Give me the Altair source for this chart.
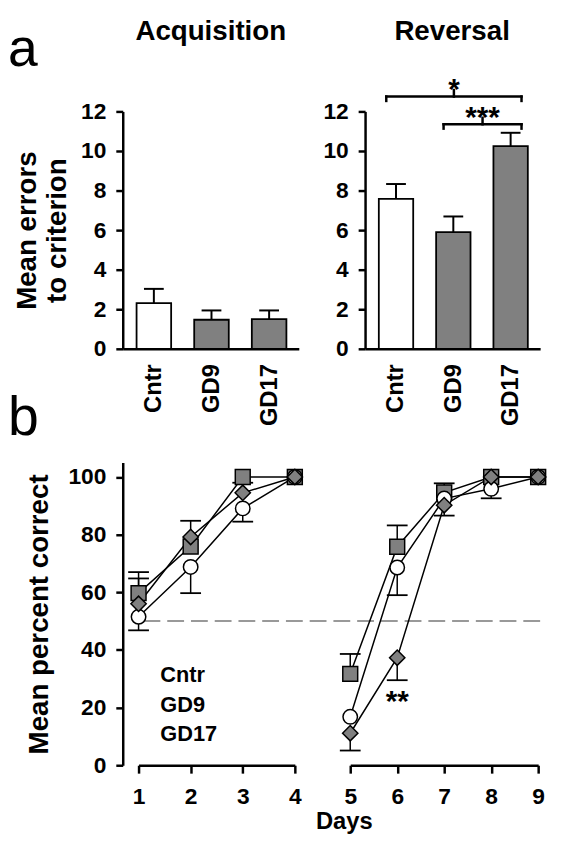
import json
import altair as alt
import pandas as pd

# ---------------- data ----------------
groups = ["Cntr", "GD9", "GD17"]

acq_mean = [2.31, 1.47, 1.50]
acq_sem = [0.72, 0.47, 0.44]
rev_mean = [7.58, 5.90, 10.25]
rev_sem = [0.75, 0.79, 0.67]

sig_from = ["Cntr", "GD9"]
sig_to = ["GD17", "GD17"]
sig_level = [12.75, 11.35]
sig_text = ["*", "***"]

days = [1, 2, 3, 4, 5, 6, 7, 8, 9]
cntr_pct = [51.5, 68.8, 89.1, 100, 16.8, 68.6, 92.5, 95.9, 100]
cntr_err = [46.8, 59.7, 84.5, None, None, 59.0, None, 92.6, None]
gd9_pct = [59.7, 75.9, 100, 100, 31.7, 75.8, 94.6, 100, 100]
gd9_err = [67.0, 84.8, None, None, 38.6, 83.2, 97.8, None, None]
gd17_pct = [56.0, 79.2, 94.5, 100, 11.1, 37.3, 90.2, 100, 100]
gd17_err = [64.8, None, 98.0, None, 5.1, 29.5, 86.6, None, None]

chance_level = [50]
star_day = [6]
star_value = [18.7]
star_text = ["**"]

# ---------------- style ----------------
FONT = "Liberation Sans"
GRAY = "#808080"
AXW = 2.5
LEFT = -116   # left edge of the figure, relative to the first plot area
TOP = -100    # top edge of the figure, relative to the first plot area


def text_layer(s, x, y, size, weight="bold", align="left"):
    return alt.Chart(pd.DataFrame({"label": [s]})).mark_text(
        font=FONT, fontSize=size, fontWeight=weight, align=align,
        baseline="alphabetic", color="black"
    ).encode(x=alt.value(x), y=alt.value(y), text="label:N")


def bar_panel(means, sems, y_title, with_sig):
    df = pd.DataFrame({"group": groups, "idx": list(range(len(groups))),
                       "mean": means, "sem": sems})
    xs = alt.Scale(domain=[-0.54, 2.515], nice=False, zero=False)
    ys = alt.Scale(domain=[0, 12], nice=False, zero=True)
    xaxis = alt.Axis(values=[0, 1, 2], labelExpr=json.dumps(groups) + "[datum.value]",
                     labelAngle=270, labelAlign="right", labelBaseline="middle",
                     ticks=False, tickSize=0, labelPadding=15, labelFontSize=24,
                     labelFlush=False, labelOverlap=False, title=None,
                     domainWidth=AXW, grid=False)
    common = dict(values=[0, 2, 4, 6, 8, 10, 12], tickSize=7, tickWidth=AXW,
                  domainWidth=AXW, labelPadding=10, labelFontSize=23, grid=False,
                  labelOverlap=False)
    if y_title:
        yaxis = alt.Axis(title=y_title, titleAngle=270, titleBaseline="alphabetic",
                         titleAlign="center", titleX=-88, titleY=120,
                         titleLineHeight=30, titleFontSize=28, **common)
    else:
        yaxis = alt.Axis(title=None, **common)
    X = lambda f: alt.X(f, scale=xs, axis=xaxis)
    Y = lambda f: alt.Y(f, scale=ys, axis=yaxis)
    base = alt.Chart(df).transform_calculate(
        xa="datum.idx - 0.3", xb="datum.idx + 0.3", top="datum.mean + datum.sem")
    bars = base.mark_bar(stroke="black", strokeWidth=1.8).encode(
        x=X("xa:Q"), x2="xb:Q", y=Y("mean:Q"), y2=alt.datum(0),
        fill=alt.Fill("group:N", scale=alt.Scale(domain=groups, range=["white", GRAY, GRAY]),
                      legend=None),
    )
    err = base.mark_rule(color="black", strokeWidth=2).encode(
        x=X("idx:Q"), y=Y("mean:Q"), y2="top:Q")
    cap = base.mark_tick(orient="horizontal", size=20, thickness=2, color="black",
                         opacity=1).encode(x=X("idx:Q"), y=Y("top:Q"))
    layers = [bars, err, cap]
    if with_sig:
        sdf = pd.DataFrame({"g1": sig_from, "g2": sig_to, "level": sig_level,
                            "label": sig_text})
        arr = json.dumps(groups)
        sb = alt.Chart(sdf).transform_calculate(
            i0=f"indexof({arr}, datum.g1) - 0.17",
            i1=f"indexof({arr}, datum.g2) + 0.19",
            mid="(datum.i0 + datum.i1) / 2",
            foot="datum.level - 0.22",
            head="datum.level + 0.33",
            ty="datum.level - 0.13",
        )
        rk = dict(color="black", strokeWidth=2.5, strokeCap="square")
        layers += [
            sb.mark_rule(**rk).encode(x=X("i0:Q"), x2="i1:Q", y=Y("level:Q")),
            sb.mark_rule(**rk).encode(x=X("i0:Q"), y=Y("level:Q"), y2="foot:Q"),
            sb.mark_rule(**rk).encode(x=X("i1:Q"), y=Y("level:Q"), y2="foot:Q"),
            sb.mark_rule(**rk).encode(x=X("mid:Q"), y=Y("level:Q"), y2="head:Q"),
            sb.mark_text(font=FONT, fontSize=30, fontWeight="bold", baseline="alphabetic",
                         align="center", color="black").encode(
                x=X("mid:Q"), y=Y("ty:Q"), text="label:N"),
        ]
    return layers


# ---------------- line panels ----------------
series_pct = {"Cntr": cntr_pct, "GD9": gd9_pct, "GD17": gd17_pct}
series_err = {"Cntr": cntr_err, "GD9": gd9_err, "GD17": gd17_err}
draw_order = ["GD9", "Cntr", "GD17"]
rows = []
for name in draw_order:
    for d, v, e in zip(days, series_pct[name], series_err[name]):
        rows.append({"series": name, "day": d, "pct": v, "err": e})
long = pd.DataFrame(rows)


def line_panel(lo, hi, rng, show_y):
    df = long[(long.day >= lo) & (long.day <= hi)].reset_index(drop=True)
    xs = alt.Scale(domain=[lo, hi], range=rng, nice=False, zero=False)
    ys = alt.Scale(domain=[0, 105], nice=False, zero=True)
    xaxis = alt.Axis(values=list(range(lo, hi + 1)), format="d", tickSize=8, tickWidth=AXW,
                     domainWidth=AXW, labelPadding=13, labelFontSize=23, title=None,
                     grid=False, labelFlush=False, labelOverlap=False)
    if show_y:
        yaxis = alt.Axis(values=[0, 20, 40, 60, 80, 100], tickSize=7, tickWidth=AXW,
                         domainWidth=AXW, labelPadding=10, labelFontSize=23, grid=False,
                         labelOverlap=False,
                         title="Mean percent correct", titleAngle=270,
                         titleBaseline="alphabetic", titleAlign="center",
                         titleX=-76, titleY=153, titleFontSize=28)
    else:
        yaxis = None
    X = lambda f: alt.X(f, scale=xs, axis=xaxis)
    Y = lambda f: alt.Y(f, scale=ys, axis=yaxis)
    base = alt.Chart(df)
    lines = base.mark_line(color="black", strokeWidth=1.5).encode(
        x=X("day:Q"), y=Y("pct:Q"), detail="series:N")
    ebase = base.transform_filter("isValid(datum.err)")
    errs = ebase.mark_rule(color="black", strokeWidth=1.5).encode(
        x=X("day:Q"), y=Y("pct:Q"), y2="err:Q")
    caps = ebase.mark_tick(orient="horizontal", size=21, thickness=1.8, color="black",
                           opacity=1).encode(x=X("day:Q"), y=Y("err:Q"))
    pts = base.mark_point(filled=True, opacity=1, stroke="black", strokeWidth=1.5).encode(
        x=X("day:Q"),
        y=Y("pct:Q"),
        shape=alt.Shape("series:N", scale=alt.Scale(domain=groups,
                                                    range=["circle", "square", "diamond"]),
                        legend=None),
        fill=alt.Fill("series:N", scale=alt.Scale(domain=groups, range=["white", GRAY, GRAY]),
                      legend=None),
        size=alt.Size("series:N", scale=alt.Scale(domain=groups, range=[214, 240, 380]),
                      legend=None),
    )
    layers = [lines]
    if show_y:
        # dashed 50 % chance line, spanning both halves of the broken axis
        layers.append(alt.Chart(pd.DataFrame({"level": chance_level})).mark_rule(
            color="#999999", strokeWidth=2, strokeDash=[17, 7]).encode(
            x=alt.value(21), x2=alt.value(426), y=Y("level:Q")))
    layers += [errs, caps, pts]
    if not show_y:
        layers.append(alt.Chart(pd.DataFrame({"day": star_day, "pct": star_value,
                                              "label": star_text})).mark_text(
            font=FONT, fontSize=30, fontWeight="bold", baseline="alphabetic",
            align="center", color="black").encode(x=X("day:Q"), y=Y("pct:Q"),
                                                  text="label:N"))
    return layers


# ---------------- top row ----------------
anchor = alt.Chart(pd.DataFrame({"k": [0]})).mark_rule(
    strokeOpacity=0, strokeWidth=1).encode(
    x=alt.value(LEFT), x2=alt.value(LEFT + 1), y=alt.value(TOP))

acq_layers = bar_panel(acq_mean, acq_sem, ["Mean errors", "to criterion"], False)
acq_layers += [anchor,
               text_layer("a", LEFT, -46, 54, weight="normal"),
               text_layer("Acquisition", 89, -72, 28, align="center")]
acq = alt.layer(*acq_layers).properties(width=178, height=240)

rev_layers = bar_panel(rev_mean, rev_sem, None, True)
rev_layers += [text_layer("Reversal", 88, -72, 28, align="center")]
rev = alt.layer(*rev_layers).properties(width=177, height=240)

# ---------------- bottom row ----------------
left_layers = line_panel(1, 4, [16, 174], True)
for i, g in enumerate(groups):
    left_layers.append(text_layer(g, 38, 222 + 30 * i, 22))
left_layers.append(text_layer("b", LEFT, -28, 56, weight="normal"))
left_layers.append(text_layer("Days", 224, 370, 24, align="center"))
left = alt.layer(*left_layers).properties(width=178, height=306)

right = alt.layer(*line_panel(5, 9, [-15, 175], False)).properties(width=177, height=306)

chart = alt.concat(acq, rev, left, right, columns=2,
                   spacing={"row": 115, "column": 67}, bounds="flush").properties(
    padding=0
).configure_view(stroke=None).configure_axis(
    labelFont=FONT, titleFont=FONT, labelFontWeight="bold", titleFontWeight="bold",
    labelColor="black", titleColor="black", domainColor="black", tickColor="black",
    grid=False
)

chart.save("out.html", embed_options={"renderer": "svg", "actions": False})
